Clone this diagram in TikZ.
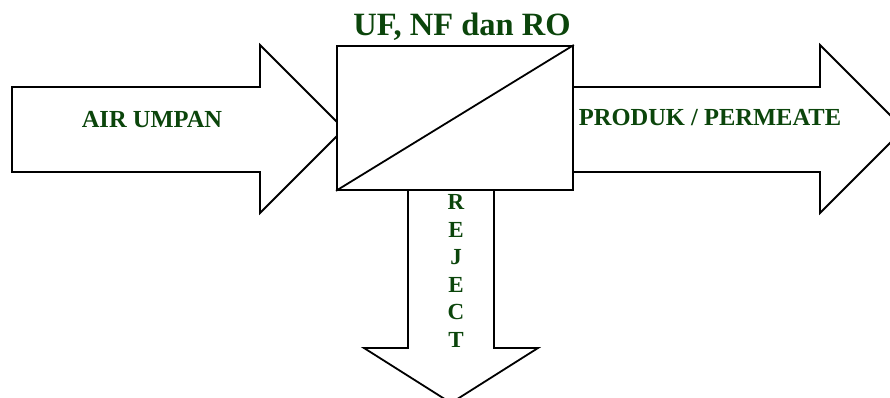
\documentclass[tikz,border=0pt]{standalone}
\usepackage{fontspec}
\setmainfont{Liberation Serif}
\definecolor{labelgreen}{HTML}{0B450B}
\begin{document}
\begin{tikzpicture}[x=1pt,y=-1pt,
  blockarrow/.style={draw=black,fill=white,line width=1.8pt,line join=miter},
  unitbox/.style={draw=black,fill=white,line width=1.8pt},
  flowlabel/.style={text=labelgreen,font=\bfseries\fontsize{24.5}{27}\selectfont,inner sep=0pt},
  rejectlabel/.style={text=labelgreen,font=\bfseries\fontsize{23}{27.5}\selectfont,inner sep=0pt},
  titlelabel/.style={text=labelgreen,font=\bfseries\fontsize{32.5}{34}\selectfont,inner sep=0pt}]
\useasboundingbox (0,0) rectangle (890,397);
\clip (0,0) rectangle (890,397);

% feed arrow
\draw[blockarrow] (12,87) -- (260,87) -- (260,45) -- (344,129) -- (260,213)
  -- (260,172) -- (12,172) -- cycle;
% permeate arrow
\draw[blockarrow] (572,87) -- (820,87) -- (820,45) -- (904,129) -- (820,213)
  -- (820,172) -- (572,172) -- cycle;
% reject arrow
\draw[blockarrow] (408,189) -- (494,189) -- (494,348) -- (538,348) -- (451,403)
  -- (364,348) -- (408,348) -- cycle;

% membrane unit
\node[unitbox,minimum width=236pt,minimum height=144pt,inner sep=0pt,anchor=north west]
  (unit) at (336,45) {};
\draw[line width=1.8pt] (unit.south west) -- (unit.north east);

\node[titlelabel,anchor=base] (title) at (462,35) {UF, NF dan RO};
\node[flowlabel] (feed) at (152,120) {AIR UMPAN};
\node[flowlabel] (permeate) at (710,118) {PRODUK / PERMEATE};
\node[rejectlabel,align=center] (reject) at (456,271) {R\\E\\J\\E\\C\\T};
\end{tikzpicture}
\end{document}
